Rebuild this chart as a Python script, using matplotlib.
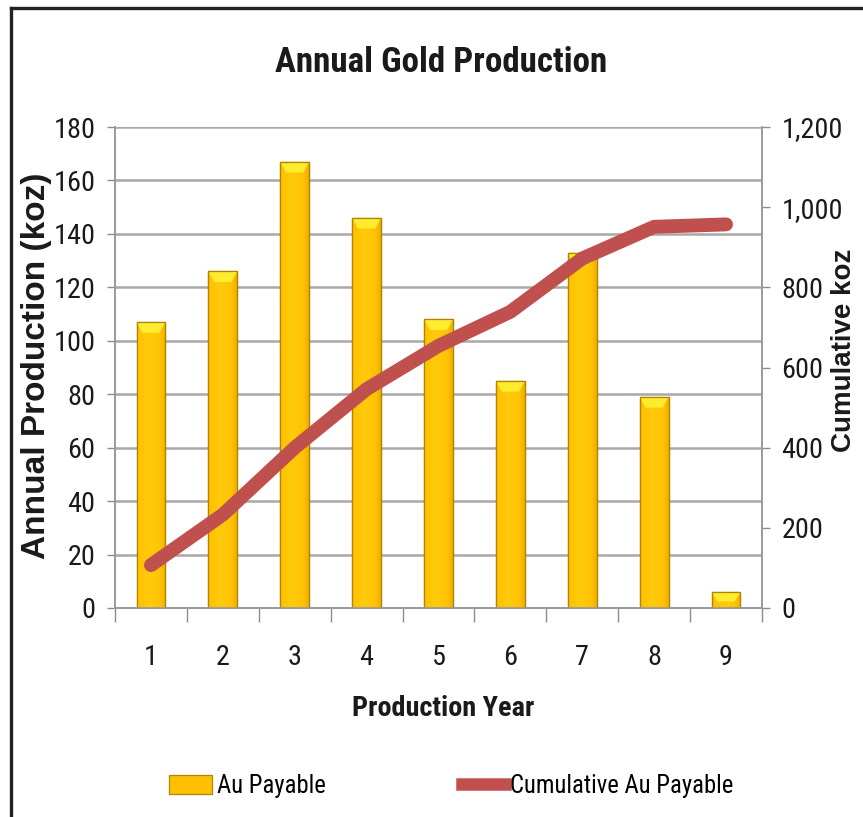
import numpy as np
import matplotlib
matplotlib.use("Agg")
import matplotlib.pyplot as plt
from matplotlib.patches import Polygon, Patch
from matplotlib.lines import Line2D
from matplotlib.ticker import FuncFormatter, FixedLocator
from matplotlib import font_manager

# ---- data -------------------------------------------------------------
years = [1, 2, 3, 4, 5, 6, 7, 8, 9]
au_payable = [107, 126, 167, 146, 108, 85, 133, 79, 6]            # koz per year
cumulative_au = [107, 233, 400, 546, 654, 739, 872, 951, 957]     # koz running total
left_ticks = [0, 20, 40, 60, 80, 100, 120, 140, 160, 180]
right_ticks = [0, 200, 400, 600, 800, 1000, 1200]

title_text = "Annual Gold Production"
xlabel_text = "Production Year"
ylabel_left = "Annual Production (koz)"
ylabel_right = "Cumulative koz"
legend_labels = ["Au Payable", "Cumulative Au Payable"]

# ---- fonts: prefer a narrow sans, else shrink a regular one -------------
names = {f.name for f in font_manager.fontManager.ttflist}
NARROW, scale = "Liberation Sans", 0.84
for cand, sc in (("Liberation Sans Narrow", 1.0), ("Arial Narrow", 1.0),
                 ("Roboto Condensed", 0.97)):
    if cand in names:
        NARROW, scale = cand, sc
        break
narrow = [NARROW, "DejaVu Sans"]
wide = ["Liberation Sans", "DejaVu Sans"]

W, H = 863, 817
fig = plt.figure(figsize=(W / 100, H / 100), dpi=100)
fig.patch.set_facecolor("white")

ax = fig.add_axes([115 / W, 1 - 608 / H, (762 - 115) / W, (608 - 127) / H])
ax2 = ax.twinx()

x = np.array(years, dtype=float)
bar_w = 0.4
GOLD = "#FFC000"
EDGE = "#B08400"

bars = ax.bar(x, au_payable, width=bar_w, color=GOLD, edgecolor=EDGE,
              linewidth=0.9, zorder=3)

# bevelled look: horizontal shading plus a bright chevron on the top face
grad = np.linspace(0, 1, 64)
shade = 1 - np.abs(grad - 0.45) * 1.3
cmap = matplotlib.colors.LinearSegmentedColormap.from_list(
    "gold", ["#D49400", "#FFC200", "#FFCB0C"])
for b, v in zip(bars, au_payable):
    x0, w = b.get_x(), b.get_width()
    im = ax.imshow(shade[np.newaxis, :], extent=(x0, x0 + w, 0, v), aspect="auto",
                   cmap=cmap, vmin=0, vmax=1, zorder=3.1, interpolation="bicubic")
    im.set_clip_path(b)
    d = min(4.0, v * 0.6)
    ax.add_patch(Polygon([(x0, v), (x0 + w, v), (x0 + w * 0.8, v - d),
                          (x0 + w * 0.2, v - d)], closed=True,
                         facecolor="#FFEC2E", edgecolor="none", zorder=3.2))
    ax.add_patch(Polygon([(x0, v), (x0 + w, v), (x0 + w, 0), (x0, 0)], closed=True,
                         facecolor="none", edgecolor=EDGE, linewidth=0.9,
                         zorder=3.3))

ax2.plot(x, cumulative_au, color="#C0504D", linewidth=10,
         solid_capstyle="round", solid_joinstyle="round", zorder=5)

# ---- axes styling -----------------------------------------------------
ax.set_xlim(0.5, 9.5)
ax.set_ylim(0, 180)
ax2.set_ylim(0, 1200)
ax.set_yticks(left_ticks)
ax2.set_yticks(right_ticks)
ax2.yaxis.set_major_formatter(FuncFormatter(lambda v, p: f"{int(v):,}"))

ax.set_xticks(years)
ax.set_xticklabels([str(y) for y in years])
ax.xaxis.set_minor_locator(FixedLocator(np.arange(0.5, 10, 1.0)))
ax.tick_params(axis="x", which="major", length=0, pad=26, labelsize=21 * scale,
               labelcolor="#1a1a1a")
ax.tick_params(axis="x", which="minor", length=10, width=1.0, color="#8c8c8c",
               direction="out")
ax.tick_params(axis="y", length=6, width=1.0, color="#8c8c8c", pad=8,
               labelsize=21 * scale, labelcolor="#1a1a1a")
ax2.tick_params(axis="y", length=6, width=1.0, color="#8c8c8c", pad=8,
                labelsize=21 * scale, labelcolor="#1a1a1a")
for lab in ax.get_xticklabels() + ax.get_yticklabels() + ax2.get_yticklabels():
    lab.set_family(narrow)

ax.yaxis.grid(True, color="#a8a8a8", linewidth=1.8, zorder=0)
ax.set_axisbelow(True)
for a in (ax, ax2):
    a.spines["top"].set_visible(False)
    for s in ("left", "right", "bottom"):
        a.spines[s].set_color("#9a9a9a")
        a.spines[s].set_linewidth(1.2)
ax2.patch.set_visible(False)

# ---- texts ------------------------------------------------------------
fig.text(441 / W, 1 - 63 / H, title_text, ha="center", va="center",
         fontsize=26 * scale, fontweight="bold", family=narrow, color="#1a1a1a")
fig.text(443 / W, 1 - 708 / H, xlabel_text, ha="center", va="center",
         fontsize=21 * scale, fontweight="bold", family=narrow, color="#1a1a1a")
fig.text(37 / W, 1 - 366 / H, ylabel_left, rotation=90, ha="center", va="center",
         fontsize=24, fontweight="bold", family=wide, color="#1a1a1a")
fig.text(831 / W, 1 - 350 / H, ylabel_right, rotation=90, ha="left", va="center",
         fontsize=20, fontweight="bold", family=wide, color="#1a1a1a")

# ---- legend -----------------------------------------------------------
handles = [Patch(facecolor=GOLD, edgecolor=EDGE, linewidth=0.9),
           Line2D([0], [0], color="#C0504D", linewidth=9)]
fig.legend(handles, legend_labels, loc="center",
           bbox_to_anchor=(451 / W, 1 - 786 / H), ncol=2, frameon=False,
           prop={"family": narrow, "size": 18.3 * scale},
           handlelength=1.75, handleheight=0.8, handletextpad=0.2,
           columnspacing=5.5)

# ---- outer frame ------------------------------------------------------
fig.add_artist(Line2D([10.5 / W, 10.5 / W], [0, 1 - 8 / H], transform=fig.transFigure,
                      color="#222222", linewidth=2.4))
fig.add_artist(Line2D([10.5 / W, 1.0], [1 - 8 / H, 1 - 8 / H], transform=fig.transFigure,
                      color="#222222", linewidth=2.4))

fig.savefig("out.png", dpi=100)
